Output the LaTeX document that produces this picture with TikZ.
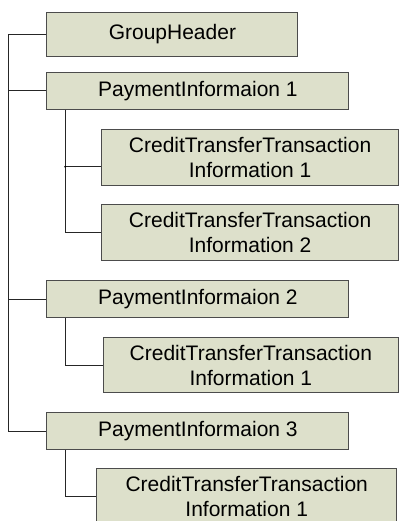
\documentclass[tikz,border=0pt]{standalone}
\usepackage{fontspec}
\setmainfont{Liberation Sans}
\begin{document}
\begin{tikzpicture}[x=1pt,y=-1pt,
    elembox/.style={shape=rectangle,draw=black!70,line width=0.9pt,fill=xml_bgbox,inner sep=0pt,align=center,font=\fontsize{21}{25}\selectfont},
    treeline/.style={draw=black!85,line width=0.8pt}]
    \definecolor{xml_bgbox}{RGB}{221,224,203}
    \useasboundingbox (0,0) rectangle (399,521);
    \clip (0,0) rectangle (399,521);
    \node[elembox,minimum width=251pt,minimum height=44pt] (grphdr)   at (172.4,34.5) {GroupHeader};
    \node[elembox,minimum width=302pt,minimum height=37pt] (pmtinf1)  at (197.9,90.7) {PaymentInformaion 1};
    \node[elembox,minimum width=297pt,minimum height=56pt] (cdttrf11) at (250.1,157)  {CreditTransferTransaction\\Information 1};
    \node[elembox,minimum width=297pt,minimum height=56pt] (cdttrf12) at (250.1,232)  {CreditTransferTransaction\\Information 2};
    \node[elembox,minimum width=302pt,minimum height=37pt] (pmtinf2)  at (197.9,298.9) {PaymentInformaion 2};
    \node[elembox,minimum width=295pt,minimum height=55pt] (cdttrf21) at (250.9,365)  {CreditTransferTransaction\\Information 1};
    \node[elembox,minimum width=302pt,minimum height=37pt] (pmtinf3)  at (197.9,431.2) {PaymentInformaion 3};
    \node[elembox,minimum width=300pt,minimum height=56pt] (cdttrf31) at (246.7,496.3) {CreditTransferTransaction\\Information 1};
    % trunk
    \draw[treeline] (grphdr.west) -- ++(-37.7,0) |- (pmtinf3.west);
    \draw[treeline] (pmtinf1.west) -- ++(-37.7,0);
    \draw[treeline] (pmtinf2.west) -- ++(-37.7,0);
    % branches
    \draw[treeline] (pmtinf1.south west) ++(19,0) |- (cdttrf12.west);
    \draw[treeline] ([yshift=-9.7pt]cdttrf11.west) -- ++(-36,0) coordinate (jn11);
    \fill[black] (jn11) circle (1.1pt);
    \draw[treeline] (pmtinf2.south west) ++(19,0) |- (cdttrf21.west);
    \draw[treeline] (pmtinf3.south west) ++(19,0) |- (cdttrf31.west);
\end{tikzpicture}
\end{document}
